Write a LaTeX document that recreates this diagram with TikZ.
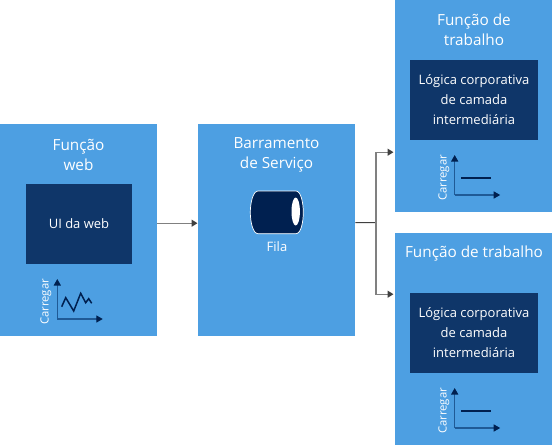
\documentclass[tikz,border=0pt]{standalone}
\usepackage{fontspec}
\setmainfont{Open Sans}
\usetikzlibrary{arrows.meta}
\definecolor{rolefill}{HTML}{4D9FE2}
\definecolor{innerfill}{HTML}{0F3669}
\definecolor{deep}{HTML}{002050}
\definecolor{axisblue}{HTML}{1F5A96}
\definecolor{wire}{HTML}{808080}
\definecolor{tipgray}{HTML}{404040}
\tikzset{
  rolebox/.style={fill=rolefill,draw=none,inner sep=0pt,anchor=north west,minimum width=157pt,minimum height=212pt},
  innerbox/.style={fill=innerfill,draw=none,inner sep=0pt,text=white,align=center,font=\fontsize{13}{20}\selectfont},
  titletext/.style={text=white,align=center,inner sep=0pt,font=\fontsize{15.3}{20}\selectfont},
  smalltext/.style={text=white,inner sep=0pt,font=\fontsize{13}{14}\selectfont},
  loadlabel/.style={text=white,inner sep=0pt,rotate=90,font=\fontsize{11.3}{14}\selectfont},
  wireline/.style={draw=wire,line width=1.3pt},
  wirearrow/.style={wireline,-{Triangle[length=6pt,width=7pt,color=tipgray]}},
  axisline/.style={draw=axisblue,line width=1.3pt,-{Triangle[length=6.5pt,width=7pt,color=deep]}},
  loadline/.style={draw=deep,line width=1.5pt}
}
\newcommand{\loadaxes}[3]{% x, y of origin, name prefix
  \coordinate (#3o) at (#1,#2);
  \coordinate (#3y) at (#1,#2-40);
  \coordinate (#3x) at (#1+45.5,#2);
  \draw[axisline] (#3o) -- (#3y);
  \draw[axisline] (#3o) -- (#3x);
}
\begin{document}
\begin{tikzpicture}[x=1pt,y=-1pt]
\useasboundingbox (0,0) rectangle (552,445);
% role boxes
\node[rolebox] (web) at (0,124) {};
\node[rolebox] (bus) at (198,124) {};
\node[rolebox] (w1) at (395,0) {};
\node[rolebox] (w2) at (395,233) {};
% inner boxes
\node[innerbox,minimum width=106pt,minimum height=80pt] (ui) at (79,224) {UI da web};
\node[innerbox,minimum width=128pt,minimum height=80pt] (logic1) at (474,100) {Lógica corporativa\\de camada\\intermediária};
\node[innerbox,minimum width=128pt,minimum height=80pt] (logic2) at (474,333) {Lógica corporativa\\de camada\\intermediária};
% titles
\node[titletext] (webt) at (78.5,155) {Função\\web};
\node[titletext] (bust) at (276.5,155) {Barramento\\de Serviço};
\node[titletext] (w1t) at (474,30) {Função de\\trabalho};
\node[titletext] (w2t) at (474,254) {Função de trabalho};
% queue
\fill[deep,draw=white,line width=0.7pt] (258,191) -- (296,191)
  .. controls (301,191) and (303.3,203) .. (303.3,212.3)
  .. controls (303.3,222) and (301,233.7) .. (296,233.7) -- (258,233.7)
  .. controls (253,233.7) and (250.3,222) .. (250.3,212.3)
  .. controls (250.3,203) and (253,191) .. (258,191) -- cycle;
\fill[white] (295.7,211.5) ellipse [x radius=4.2pt,y radius=14pt];
\node[smalltext] (fila) at (277,247) {Fila};
% connectors
\coordinate (junction) at (376,222.5);
\draw[wirearrow,shorten >=0.5pt] ([yshift=7pt]web.east) -- ([yshift=7pt]bus.west);
\draw[draw=tipgray,line width=1pt] ([yshift=7.5pt]bus.east) -- (junction);
\draw[wirearrow,shorten >=1.5pt] (junction) |- ([yshift=-46pt]w1.west);
\draw[wirearrow,shorten >=1.5pt] (junction) |- ([yshift=45pt]w2.west);
% load charts
\loadaxes{57.3}{319}{a}
\draw[loadline] (61.7,306.7) -- (65.7,297.7) -- (73.7,311) -- (80.7,293.3) -- (85.7,302.7) -- (88.7,298.7) -- (91.7,303.3);
\node[loadlabel] (ca) at (46,302) {Carregar};
\loadaxes{454.7}{195}{b}
\draw[loadline,line width=2pt] (461,178) -- (491,178);
\node[loadlabel] (cb) at (444,178) {Carregar};
\loadaxes{454.7}{428}{c}
\draw[loadline,line width=2pt] (461,411) -- (491,411);
\node[loadlabel] (cc) at (444,411) {Carregar};
\end{tikzpicture}
\end{document}
